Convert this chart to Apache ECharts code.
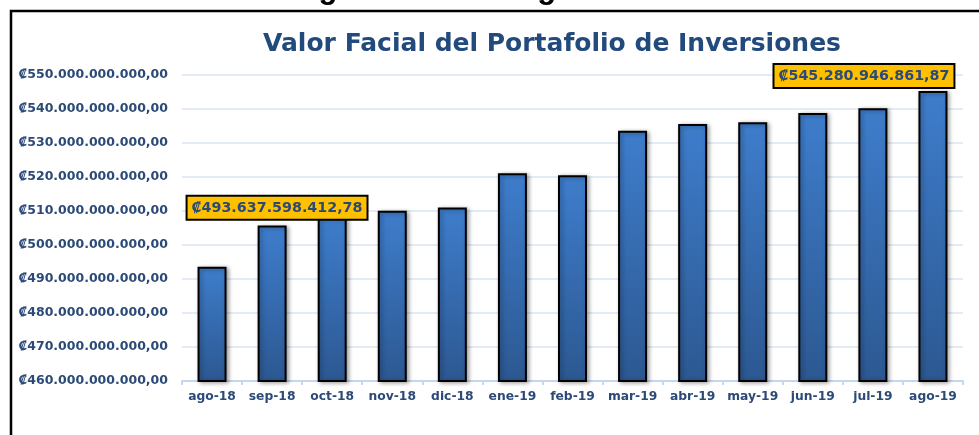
<!DOCTYPE html>
<html>
<head>
<meta charset="utf-8">
<script src="https://cdn.jsdelivr.net/npm/echarts@6/dist/echarts.min.js"></script>
<style>
  html, body { margin: 0; padding: 0; background: #fff; }
  #chart { width: 979px; height: 435px; }
</style>
</head>
<body>
<div id="chart"></div>
<script>
// meses del periodo
const categories = ["ago-18", "sep-18", "oct-18", "nov-18", "dic-18", "ene-19", "feb-19",
  "mar-19", "abr-19", "may-19", "jun-19", "jul-19", "ago-19"];
const values = [493637598412.78, 505700000000, 508300000000, 510100000000, 511000000000,
  521100000000, 520500000000, 533600000000, 535600000000, 536100000000, 538800000000,
  540200000000, 545280946861.87];
const yMin = 460000000000;
const yMax = 550000000000;
const yStep = 10000000000;

const fontFam = "'DejaVu Sans', 'Noto Sans', sans-serif";
const blue = "#2c4a78";

function fmt(v) {
  const parts = Number(v).toFixed(2).split(".");
  return "₡" + parts[0].replace(/\B(?=(\d{3})+(?!\d))/g, ".") + "," + parts[1];
}

const labelBox = {
  show: true,
  position: "top",
  formatter: (p) => fmt(p.value),
  color: blue,
  fontFamily: fontFam,
  fontWeight: "bold",
  fontSize: 14.3,
  lineHeight: 17,
  backgroundColor: "#ffc000",
  borderColor: "#000",
  borderWidth: 2,
  padding: [3, 4, 2, 4]
};

const barData = values.map((v, i) => {
  if (i === 0) return { value: v, label: Object.assign({}, labelBox, { distance: 5, offset: [65, -43] }) };
  if (i === values.length - 1) return { value: v, label: Object.assign({}, labelBox, { distance: 4, offset: [-69, 0] }) };
  return v;
});

const chart = echarts.init(document.getElementById("chart"));
chart.setOption({
  animation: false,
  backgroundColor: "#fff",
  title: {
    text: "Valor Facial del Portafolio de Inversiones",
    left: 547,
    textAlign: "center",
    top: 27,
    textStyle: { color: "#234a7c", fontFamily: fontFam, fontWeight: "bold", fontSize: 25 }
  },
  graphic: [
    {
      type: "text",
      x: 502,
      y: -11,
      style: {
        text: "Agosto 2018 – Agosto 2019.",
        x: 0, y: 0,
        textAlign: "center",
        textVerticalAlign: "middle",
        fill: "#000",
        font: "bold 31px 'Liberation Sans', Arial, sans-serif"
      }
    },
    {
      type: "rect",
      shape: { x: 11, y: 11, width: 1000, height: 500 },
      style: { fill: "none", stroke: "#000", lineWidth: 2.5 },
      z: 10
    }
  ],
  grid: { left: 182, right: 16, top: 75, bottom: 54 },
  xAxis: {
    type: "category",
    data: categories,
    axisLine: { lineStyle: { color: "#c5d7ee", width: 2 } },
    axisTick: { show: true, length: 4, lineStyle: { color: "#c5d7ee", width: 2 } },
    axisLabel: { interval: 0, color: blue, fontFamily: fontFam, fontWeight: "bold", fontSize: 12.3, margin: 10 }
  },
  yAxis: {
    type: "value",
    min: yMin,
    max: yMax,
    interval: yStep,
    axisLine: { show: false },
    axisTick: { show: false },
    splitLine: { lineStyle: { color: "#dae5f3", width: 1.5 } },
    axisLabel: {
      formatter: (v) => fmt(v),
      color: blue,
      fontFamily: fontFam,
      fontWeight: "bold",
      fontSize: 12.5,
      margin: 14
    }
  },
  series: [
    {
      type: "bar",
      data: barData,
      barWidth: 29,
      itemStyle: {
        color: new echarts.graphic.LinearGradient(0, 0, 0, 1, [
          { offset: 0, color: "#3e7dcc" },
          { offset: 1, color: "#2c5891" }
        ]),
        borderColor: "#000",
        borderWidth: 2,
        shadowColor: "rgba(0,0,0,0.35)",
        shadowBlur: 4,
        shadowOffsetX: 2,
        shadowOffsetY: 1
      }
    }
  ]
});
</script>
</body>
</html>
